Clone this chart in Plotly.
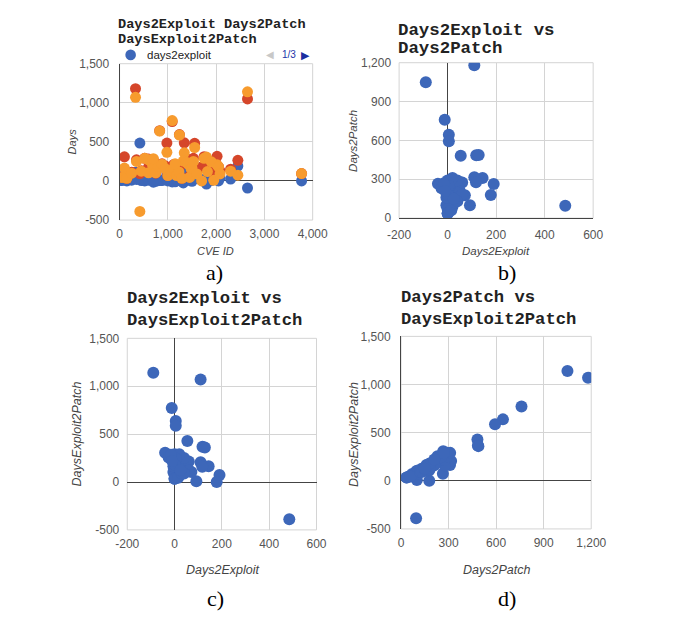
import plotly.graph_objects as go

# ---------------- data ----------------
cve_id = [330, 2650, 420, 3770, 1090, 830, 1240, 1555, 980, 1340,
          100, 2450, 1800, 1320, 2020, 1480, 1700, 1950, 600, 50,
          150, 250, 350, 450, 520, 600, 680, 750, 800, 880,
          950, 1000, 1050, 1120, 1180, 1230, 1290, 1380, 1420, 1450,
          1500, 1530, 1600, 1750, 1820, 1900, 2050, 2080, 2300, 700,
          1150]
days2exploit = [110, -90, 485, 0, -12, 5, 5, 54, 118, 128,
                144, 190, -40, -25, 110, 117, 178, 92, 71, 5,
                0, 10, 20, 5, 0, 10, 30, -5, 15, 5,
                35, 0, 25, 50, 20, 45, 0, 10, 60, 15,
                -5, 40, 30, 20, 60, 5, 0, 40, 25, -15,
                -10]
days2patch = [1180, 1050, 95, 95, 760, 643, 593, 482, 485, 488,
              309, 264, 266, 230, 316, 276, 178, 100, 176, 50,
              35, 110, 270, 130, 290, 280, 240, 100, 200, 220,
              190, 70, 150, 210, 90, 160, 35, 250, 275, 60,
              160, 290, 120, 310, 180, 250, 180, 130, 150, 270,
              210]
days_exploit2patch = [1070, 1140, -390, 95, 772, 638, 588, 428, 367, 360,
                      165, 74, 306, 255, 206, 159, 0, 8, 105, 45,
                      35, 100, 250, 125, 290, 270, 210, 105, 185, 215,
                      155, 70, 125, 160, 70, 115, 35, 240, 215, 45,
                      165, 250, 90, 290, 120, 245, 180, 90, 125, 285,
                      220]

days_ticks = [-500, 0, 500, 1000, 1500]
days_ticktext = ["-500", "0", "500", "1,000", "1,500"]
cve_ticks = [0, 1000, 2000, 3000, 4000]
cve_ticktext = ["0", "1,000", "2,000", "3,000", "4,000"]
exploit_ticks = [-200, 0, 200, 400, 600]
exploit_ticktext = ["-200", "0", "200", "400", "600"]
patch_ticks = [0, 300, 600, 900, 1200]
patch_ticktext = ["0", "300", "600", "900", "1,200"]

BLUE = "#3D67B9"
RED = "#D5462A"
ORANGE = "#F79B2E"
W, H = 685, 619

def px_x(p):
    return p / W

def px_y(p):
    return 1 - p / H

fig = go.Figure()

# a) three series vs CVE ID
fig.add_trace(go.Scatter(x=cve_id, y=days2exploit, mode="markers", name="days2exploit",
                         marker=dict(color=BLUE, size=11), xaxis="x", yaxis="y"))
fig.add_trace(go.Scatter(x=cve_id, y=days2patch, mode="markers", name="days2patch",
                         marker=dict(color=RED, size=11), xaxis="x", yaxis="y"))
fig.add_trace(go.Scatter(x=cve_id, y=days_exploit2patch, mode="markers", name="daysexploit2patch",
                         marker=dict(color=ORANGE, size=11), xaxis="x", yaxis="y"))
# b)
fig.add_trace(go.Scatter(x=days2exploit, y=days2patch, mode="markers",
                         marker=dict(color=BLUE, size=12), xaxis="x2", yaxis="y2"))
# c)
fig.add_trace(go.Scatter(x=days2exploit, y=days_exploit2patch, mode="markers",
                         marker=dict(color=BLUE, size=12), xaxis="x3", yaxis="y3"))
# d)
fig.add_trace(go.Scatter(x=days2patch, y=days_exploit2patch, mode="markers",
                         marker=dict(color=BLUE, size=12), xaxis="x4", yaxis="y4"))

tickfont = dict(family="Liberation Sans, Arial", size=12, color="#555")
GRID = "#d4d4d4"
ZERO = "#444"

def axis(domain, rng, vals, text, anchor, standoff, zeroline=True, showline=False):
    return dict(domain=domain, range=rng, tickvals=vals, ticktext=text, anchor=anchor,
                showgrid=True, gridcolor=GRID, gridwidth=1,
                zeroline=zeroline, zerolinecolor=ZERO, zerolinewidth=1,
                showline=showline, linecolor=ZERO, linewidth=1, mirror=False,
                ticks="", tickfont=tickfont, ticklabelstandoff=standoff, fixedrange=True)

# plot areas in pixels
A = (112, 313, 58, 218)
B = (403, 605, 57, 216)
C = (120, 317, 339, 535)
D = (405, 603, 337, 534)

def dom(box):
    x0, x1, y0, y1 = box
    return [px_x(x0), px_x(x1)], [px_y(y1), px_y(y0)]

ax_a, ay_a = dom(A)
ax_b, ay_b = dom(B)
ax_c, ay_c = dom(C)
ax_d, ay_d = dom(D)

XS, YS = 5, 7
fig.update_layout(
    width=W, height=H, margin=dict(l=0, r=0, t=0, b=0),
    paper_bgcolor="white", plot_bgcolor="white", showlegend=False,
    xaxis=axis(ax_a, [0, 4000], cve_ticks, cve_ticktext, "y", XS),
    yaxis=axis(ay_a, [-500, 1500], days_ticks, days_ticktext, "x", YS, showline=True),
    xaxis2=axis(ax_b, [-200, 600], exploit_ticks, exploit_ticktext, "y2", XS, showline=True),
    yaxis2=axis(ay_b, [0, 1200], patch_ticks, patch_ticktext, "x2", YS),
    xaxis3=axis(ax_c, [-200, 600], exploit_ticks, exploit_ticktext, "y3", XS),
    yaxis3=axis(ay_c, [-500, 1500], days_ticks, days_ticktext, "x3", YS),
    xaxis4=axis(ax_d, [0, 1200], patch_ticks, patch_ticktext, "y4", XS),
    yaxis4=axis(ay_d, [-500, 1500], days_ticks, days_ticktext, "x4", YS, showline=True),
)

# light frame around each plot area (grid lines at the range ends)
for box in (A, B, C, D):
    x0, x1, y0, y1 = box
    fig.add_shape(type="rect", xref="paper", yref="paper", layer="below",
                  x0=px_x(x0), x1=px_x(x1), y0=px_y(y1), y1=px_y(y0),
                  line=dict(color=GRID, width=1), fillcolor="rgba(0,0,0,0)")

ann = []

def txt(x, y, s, size, family, color="#222", xanchor="left", angle=0, italic=False, bold=False):
    if bold:
        s = "<b>" + s + "</b>"
    if italic:
        s = "<i>" + s + "</i>"
    ann.append(dict(x=px_x(x), y=px_y(y), xref="paper", yref="paper", text=s,
                    showarrow=False, xanchor=xanchor, yanchor="middle", textangle=angle,
                    font=dict(size=size, family=family, color=color)))

MONO = "Liberation Mono, Courier New"
SANS = "Liberation Sans, Arial"
SERIF = "Liberation Serif, Times New Roman"

# titles
txt(108, 18, "Days2Exploit Days2Patch", 13.6, MONO, "#222", bold=True)
txt(108, 33, "DaysExploit2Patch", 13.6, MONO, "#222", bold=True)
txt(400, 24, "Days2Exploit vs", 17.4, MONO, "#222", bold=True)
txt(400, 42, "Days2Patch", 17.4, MONO, "#222", bold=True)
txt(118, 298, "Days2Exploit vs", 17.2, MONO, "#222", bold=True)
txt(118, 321, "DaysExploit2Patch", 17.2, MONO, "#222", bold=True)
txt(403, 297, "Days2Patch vs", 17.2, MONO, "#222", bold=True)
txt(403, 320, "DaysExploit2Patch", 17.2, MONO, "#222", bold=True)

# legend of a)
txt(138, 49, "days2exploit", 11.5, SANS, "#222")
txt(262, 49, "◀", 10, SANS, "#c8c8c8")
txt(279, 49, "1/3", 10, SANS, "#2233aa")
txt(299, 49, "▶", 11, SANS, "#1a2ea0")

# axis titles
AT = "#444"
txt(212, 250, "CVE ID", 11, SANS, AT, xanchor="center", italic=True)
txt(62, 138, "Days", 11, SANS, AT, xanchor="center", angle=-90, italic=True)
txt(504, 250, "Days2Exploit", 11.5, SANS, AT, xanchor="center", italic=True)
txt(355, 137, "Days2Patch", 11.5, SANS, AT, xanchor="center", angle=-90, italic=True)
txt(219, 576, "Days2Exploit", 12.5, SANS, AT, xanchor="center", italic=True)
txt(68, 437, "DaysExploit2Patch", 12.5, SANS, AT, xanchor="center", angle=-90, italic=True)
txt(504, 576, "Days2Patch", 12.5, SANS, AT, xanchor="center", italic=True)
txt(356, 437, "DaysExploit2Patch", 12.5, SANS, AT, xanchor="center", angle=-90, italic=True)

# panel labels
txt(211, 272, "a)", 22, SERIF, "#000", xanchor="center")
txt(515, 272, "b)", 22, SERIF, "#000", xanchor="center")
txt(212, 605, "c)", 22, SERIF, "#000", xanchor="center")
txt(515, 605, "d)", 22, SERIF, "#000", xanchor="center")

fig.update_layout(annotations=ann)

# legend marker of a)
fig.add_shape(type="circle", xref="paper", yref="paper",
              x0=px_x(118), x1=px_x(129), y0=px_y(54.5), y1=px_y(43.5),
              fillcolor=BLUE, line=dict(width=0))

fig.write_html("out.html", config={"displayModeBar": False},
               post_script="document.body.style.margin='0';document.body.style.overflow='hidden';")
